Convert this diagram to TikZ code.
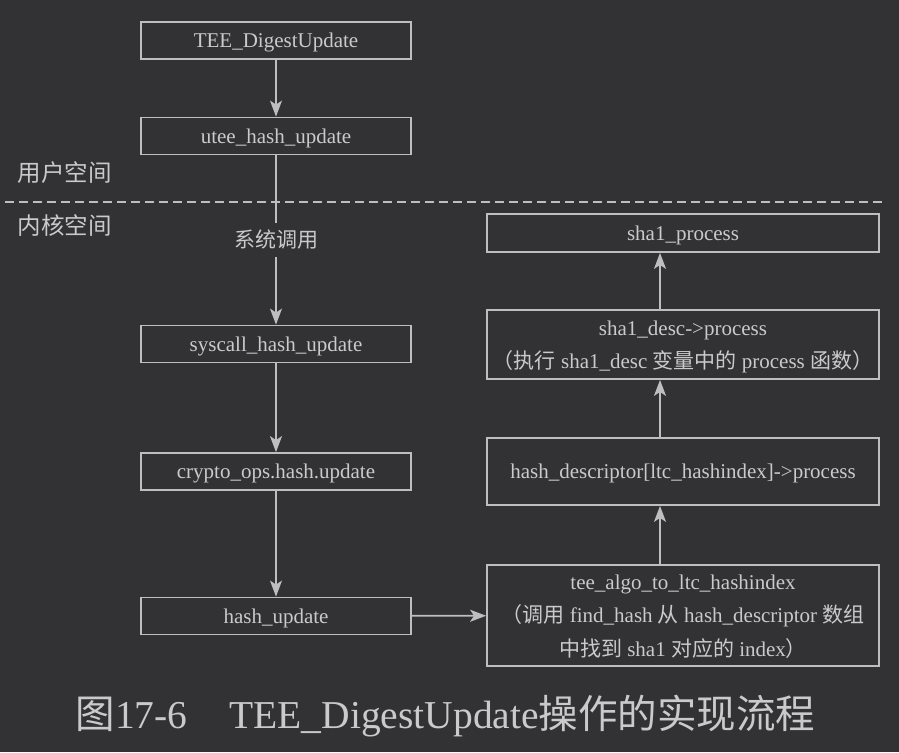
\documentclass[tikz,border=0pt]{standalone}
\usepackage{fontspec}
\setmainfont{Liberation Serif}
\newfontfamily\cjk{Noto Sans CJK SC}
\usetikzlibrary{arrows.meta}
\definecolor{bg}{RGB}{50,50,53}
\definecolor{fg}{RGB}{190,190,190}
\definecolor{tx}{RGB}{202,202,202}
\begin{document}
\begin{tikzpicture}[x=1pt,y=-1pt,
  box/.style={draw=fg, line width=1.8pt, inner sep=0pt, align=center, text=tx, text depth=0pt, font=\fontsize{21}{33.5}\selectfont},
  lbox/.style={box, minimum width=270pt, minimum height=37pt},
  rbox/.style={box, minimum width=392pt},
  arr/.style={draw=fg, line width=1.8pt, -{Stealth[length=16pt,width=12pt,inset=4pt]}},
  plain/.style={draw=fg, line width=1.8pt},
  lab/.style={text=tx, inner sep=0pt, font=\cjk\fontsize{23.5}{28}\selectfont},
  sys/.style={text=tx, inner sep=0pt, minimum height=34pt, font=\cjk\fontsize{21}{25}\selectfont},
  captext/.style={text=tx, inner sep=0pt, text depth=0pt, font=\fontsize{39.5}{46}\selectfont}]
\fill[bg] (0,0) rectangle (899,752);
\useasboundingbox (0,0) rectangle (899,752);

% left column
\node[lbox] (tee) at (276,40.5) {TEE\_DigestUpdate};
\node[lbox] (utee) at (276,136) {utee\_hash\_update};
\node[sys] (scl) at (276,240) {系统调用};
\node[lbox] (sc) at (276,344) {syscall\_hash\_update};
\node[lbox] (co) at (276,471.5) {crypto\_ops.hash.update};
\node[lbox] (hu) at (276,616) {hash\_update};

% right column
\node[rbox, minimum height=38pt] (sp) at (683,233) {sha1\_process};
\node[rbox, minimum height=69pt] (sd) at (683,344.5) {sha1\_desc->process\\{\cjk （执行} sha1\_desc {\cjk 变量中的} process {\cjk 函数）}};
\node[rbox, minimum height=67pt] (hd) at (683,471.5) {hash\_descriptor[ltc\_hashindex]->process};
\node[rbox, minimum height=101pt] (ta) at (683,615.5) {tee\_algo\_to\_ltc\_hashindex\\{\cjk （调用} find\_hash {\cjk 从} hash\_descriptor {\cjk 数组}\\{\cjk 中找到} sha1 {\cjk 对应的} index{\cjk ）}};

% labels
\node[lab] (us) at (64.5,173) {用户空间};
\node[lab] (ks) at (64.5,226) {内核空间};

% dashed separator
\coordinate (dl) at (5,202);
\coordinate (dr) at (882,202);
\draw[fg, line width=1.6pt, dash pattern=on 9pt off 5pt] (dl) -- (dr);

% connectors
\draw[arr] (tee) -- (utee);
\draw[plain] (utee) -- (scl);
\draw[arr] (scl) -- (sc);
\draw[arr] (sc) -- (co);
\draw[arr] (co) -- (hu);
\draw[arr] (hu) -- (ta);
\coordinate (ax) at (660,0);
\draw[arr] (ta.north -| ax) -- (hd.south -| ax);
\draw[arr] (hd.north -| ax) -- (sd.south -| ax);
\draw[arr] (sd.north -| ax) -- (sp.south -| ax);

% caption
\node[captext] (caption) at (445.5,712) {{\cjk 图}17-6\hspace{42pt}TEE\_DigestUpdate{\cjk 操作的实现流程}};
\end{tikzpicture}
\end{document}
